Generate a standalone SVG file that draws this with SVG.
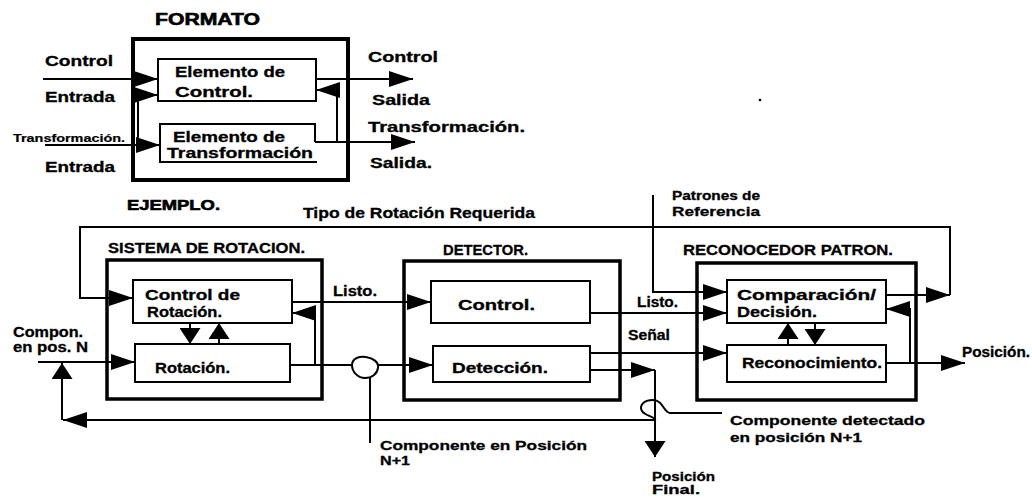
<svg xmlns="http://www.w3.org/2000/svg" width="1032" height="498" viewBox="0 0 1032 498">
<style>
.t{font-family:"Liberation Sans",Arial,sans-serif;font-weight:bold;font-size:13px;fill:#000;stroke:#000;stroke-width:0.3}
.m{font-size:14px}
.sm{font-size:10px;stroke-width:0.2}
.h{font-size:14px;font-weight:900;stroke-width:0.6}
.ln{fill:none;stroke:#000;stroke-width:2}
.ob{fill:none;stroke:#000;stroke-width:3.5}
.ib{fill:#fff;stroke:#000;stroke-width:2}
</style>
<defs>
<marker id="a" markerUnits="userSpaceOnUse" markerWidth="25" markerHeight="17" refX="24" refY="8.5" orient="auto" viewBox="0 0 25 17"><path d="M0,0.5 L24,8.5 L0,16.5 z" fill="#000"/></marker>
<marker id="s" markerUnits="userSpaceOnUse" markerWidth="17" markerHeight="21" refX="16" refY="10.5" orient="auto" viewBox="0 0 17 21"><path d="M0,0 L16,10.5 L0,21 z" fill="#000"/></marker>
</defs>
<rect width="1032" height="498" fill="#fff"/>

<!-- FORMATO -->
<g id="formato">
<text class="t h" x="155" y="25" style="font-size:16px" textLength="105" lengthAdjust="spacingAndGlyphs">FORMATO</text>
<rect class="ob" x="133" y="39" width="215" height="141" style="stroke-width:4"/>
</g>
<g id="elemento-control">
<rect class="ib" x="158" y="59" width="158" height="42"/>
<text class="t m" x="175" y="77" textLength="110" lengthAdjust="spacingAndGlyphs">Elemento de</text>
<text class="t m" x="175" y="97" textLength="78" lengthAdjust="spacingAndGlyphs">Control.</text>
</g>
<g id="elemento-transformacion">
<path class="ib" d="M315,142 L315,124 L160,124 L160,162 L317,162" fill="none"/>
<text class="t m" x="173" y="142" textLength="112" lengthAdjust="spacingAndGlyphs">Elemento de</text>
<text class="t m" x="167" y="158" textLength="146" lengthAdjust="spacingAndGlyphs">Transformación</text>
</g>
<g id="labels-formato">
<text class="t m" x="45" y="66" textLength="68" lengthAdjust="spacingAndGlyphs">Control</text>
<text class="t m" x="45" y="102" textLength="70" lengthAdjust="spacingAndGlyphs">Entrada</text>
<text class="t sm" x="13" y="142" textLength="112" lengthAdjust="spacingAndGlyphs">Transformación.</text>
<text class="t m" x="45" y="172" textLength="70" lengthAdjust="spacingAndGlyphs">Entrada</text>
<text class="t m" x="368" y="62" textLength="70" lengthAdjust="spacingAndGlyphs">Control</text>
<text class="t m" x="372" y="105" textLength="58" lengthAdjust="spacingAndGlyphs">Salida</text>
<text class="t m" x="368" y="132" textLength="157" lengthAdjust="spacingAndGlyphs">Transformación.</text>
<text class="t m" x="370" y="168" textLength="62" lengthAdjust="spacingAndGlyphs">Salida.</text>
</g>
<circle cx="760" cy="100" r="1.3" fill="#000"/>

<!-- EJEMPLO -->
<g id="ejemplo-labels">
<text class="t h" x="127" y="210" textLength="93" lengthAdjust="spacingAndGlyphs">EJEMPLO.</text>
<text class="t m" x="303" y="218" textLength="232" lengthAdjust="spacingAndGlyphs">Tipo de Rotación Requerida</text>
<text class="t m" x="13" y="337" textLength="70" lengthAdjust="spacingAndGlyphs">Compon.</text>
<text class="t m" x="13" y="352" textLength="75" lengthAdjust="spacingAndGlyphs">en pos. N</text>
<text class="t m" x="333" y="296" textLength="44" lengthAdjust="spacingAndGlyphs">Listo.</text>
<text class="t m" x="637" y="307" textLength="41" lengthAdjust="spacingAndGlyphs">Listo.</text>
<text class="t m" x="628" y="340" textLength="42" lengthAdjust="spacingAndGlyphs">Señal</text>
<text class="t" x="672" y="200" textLength="88" lengthAdjust="spacingAndGlyphs">Patrones de</text>
<text class="t" x="672" y="216" textLength="88" lengthAdjust="spacingAndGlyphs">Referencia</text>
<text class="t m" x="962" y="357" textLength="68" lengthAdjust="spacingAndGlyphs">Posición.</text>
<text class="t" x="730" y="425" textLength="195" lengthAdjust="spacingAndGlyphs">Componente detectado</text>
<text class="t" x="730" y="442" textLength="132" lengthAdjust="spacingAndGlyphs">en posición N+1</text>
<text class="t" x="652" y="481" textLength="63" lengthAdjust="spacingAndGlyphs">Posición</text>
<text class="t" x="652" y="494" textLength="48" lengthAdjust="spacingAndGlyphs">Final.</text>
<text class="t" x="380" y="450" textLength="207" lengthAdjust="spacingAndGlyphs">Componente en Posición</text>
<text class="t" x="380" y="465" textLength="30" lengthAdjust="spacingAndGlyphs">N+1</text>
</g>

<g id="sistema-rotacion">
<text class="t m" x="108" y="253" textLength="197" lengthAdjust="spacingAndGlyphs">SISTEMA DE ROTACION.</text>
<rect class="ob" x="107" y="260" width="215" height="139"/>
</g>
<g id="control-rotacion">
<rect class="ib" x="133" y="280" width="159" height="43"/>
<text class="t m" x="145" y="300" textLength="95" lengthAdjust="spacingAndGlyphs">Control de</text>
<text class="t m" x="147" y="317" textLength="75" lengthAdjust="spacingAndGlyphs">Rotación.</text>
</g>
<g id="rotacion">
<rect class="ib" x="135" y="344" width="155" height="38"/>
<text class="t m" x="155" y="373" textLength="75" lengthAdjust="spacingAndGlyphs">Rotación.</text>
</g>

<g id="detector">
<text class="t m" x="443" y="255" textLength="85" lengthAdjust="spacingAndGlyphs">DETECTOR.</text>
<rect class="ob" x="404" y="261" width="216" height="139"/>
</g>
<g id="control-detector">
<rect class="ib" x="431" y="281" width="159" height="42"/>
<text class="t m" x="458" y="310" textLength="77" lengthAdjust="spacingAndGlyphs">Control.</text>
</g>
<g id="deteccion">
<rect class="ib" x="433" y="346" width="157" height="36"/>
<text class="t m" x="452" y="373" textLength="96" lengthAdjust="spacingAndGlyphs">Detección.</text>
</g>

<g id="reconocedor">
<text class="t m" x="683" y="255" textLength="210" lengthAdjust="spacingAndGlyphs">RECONOCEDOR PATRON.</text>
<rect class="ob" x="697" y="263" width="219" height="137"/>
</g>
<g id="comparacion">
<rect class="ib" x="727" y="280" width="159" height="43"/>
<text class="t m" x="737" y="300" textLength="139" lengthAdjust="spacingAndGlyphs">Comparación/</text>
<text class="t m" x="737" y="317" textLength="80" lengthAdjust="spacingAndGlyphs">Decisión.</text>
</g>
<g id="reconocimiento">
<rect class="ib" x="727" y="345" width="159" height="37"/>
<text class="t m" x="742" y="368" textLength="140" lengthAdjust="spacingAndGlyphs">Reconocimiento.</text>
</g>

<g id="connectors">
<path class="ln" d="M43,79 L158,79" marker-end="url(#a)"/>
<path class="ln" d="M45,145 L160,145" marker-end="url(#a)"/>
<path class="ln" d="M138,145 L138,95 L158,95" marker-end="url(#a)"/>
<path class="ln" d="M316,79 L413,79" marker-end="url(#a)"/>
<path class="ln" d="M315,142 L415,142" marker-end="url(#a)"/>
<path class="ln" d="M337,142 L337,90 L316,90" marker-end="url(#a)"/>

<path class="ln" d="M886,295 L950,295" marker-end="url(#a)"/>
<path class="ln" d="M950,295 L950,227 L80,227 L80,298 L133,298" marker-end="url(#a)"/>
<path class="ln" d="M292,302 L431,302" marker-end="url(#a)"/>
<path class="ln" d="M315,365 L315,313 L292,313" marker-end="url(#a)"/>
<path class="ln" d="M290,365 L352,365"/>
<path class="ln" d="M352,365 C352,358 360,356 366,357 C373,358 379,362 378,368 C377,374 372,378 365,378 C358,378 352,372 352,365 Z"/>
<path class="ln" d="M378,365 L433,365" marker-end="url(#a)"/>
<path class="ln" d="M370,378 L370,443"/>
<path class="ln" d="M38,362 L135,362" marker-end="url(#a)"/>
<path class="ln" d="M62,420 L62,363" marker-end="url(#s)"/>
<path class="ln" d="M722,413 L670,413 C664,413 663,400 653,400 C643,400 639,406 642,411 C645,416 654,416 655,420 L63,420" marker-end="url(#a)"/>
<path class="ln" d="M590,353 L727,353" marker-end="url(#a)"/>
<path class="ln" d="M590,370 L655,370" marker-end="url(#a)"/>
<path class="ln" d="M655,370 L655,457" marker-end="url(#s)"/>
<path class="ln" d="M590,313 L727,313" marker-end="url(#a)"/>
<path class="ln" d="M653,195 L653,292 L727,292" marker-end="url(#a)"/>
<path class="ln" d="M886,363 L965,363" marker-end="url(#a)"/>
<path class="ln" d="M910,363 L910,309 L886,309" marker-end="url(#a)"/>
<path class="ln" d="M190,323 L190,344" marker-end="url(#s)"/>
<path class="ln" d="M219,344 L219,323" marker-end="url(#s)"/>
<path class="ln" d="M788,345 L788,323" marker-end="url(#s)"/>
<path class="ln" d="M815,323 L815,345" marker-end="url(#s)"/>
</g>
</svg>
